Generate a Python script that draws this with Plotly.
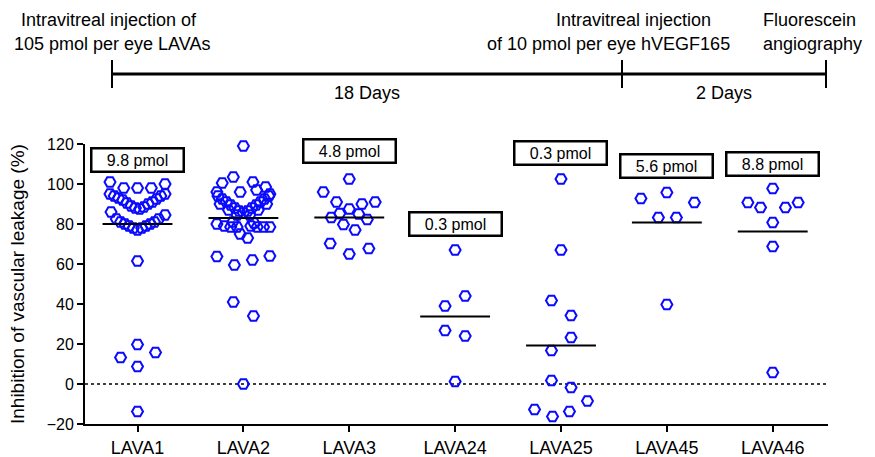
import plotly.graph_objects as go

categories = ["LAVA1", "LAVA2", "LAVA3", "LAVA24", "LAVA25", "LAVA45", "LAVA46"]
dose_labels = ["9.8 pmol", "5.2 pmol", "4.8 pmol", "0.3 pmol", "0.3 pmol", "5.6 pmol", "8.8 pmol"]
dose_label_y = [112, 133, 116.5, 80, 115.5, 109, 110]
medians = [80, 83, 83.3, 33.7, 19.2, 80.8, 76.2]

lava1_values = [101, 100, 98, 98, 98, 95, 94, 93, 92, 90.5, 89, 88, 87.5, 88.5, 90, 91, 92.5, 94, 95,
                86, 84.5, 82.5, 81, 80, 79, 78, 77, 78, 79, 80, 81, 82.5, 61.5, 19.8, 13.2, 15.7, 8.7, -13.8]
lava1_jitter = [-0.26, 0.26, -0.13, 0, 0.13, -0.26, -0.22, -0.18, -0.14, -0.10, -0.06, -0.02, 0.02, 0.06, 0.10,
                0.14, 0.18, 0.22, 0.26, -0.25, 0.26, -0.20, -0.16, -0.12, -0.08, -0.04, 0, 0.04, 0.08, 0.12,
                0.16, 0.20, 0, 0, -0.16, 0.17, 0, 0]

lava2_values = [119, 103.5, 100.5, 101, 98.5, 96, 96, 97, 95,
                94, 92.5, 91, 89.5, 88, 86.5, 85.5, 86.5, 88, 89.5, 91, 92.5, 94,
                90, 87, 84.5, 84.5, 87, 90,
                80, 79, 78.5, 78.5, 79, 78.5, 78.5, 78.5, 75, 73, 81, 80.5,
                63.7, 59.5, 62, 64, 41, 34, 0]
lava2_jitter = [0, -0.095, -0.2, 0.09, 0.21, -0.25, -0.03, 0.125, 0.25,
                -0.24, -0.20, -0.16, -0.12, -0.08, -0.04, 0, 0.04, 0.08, 0.12, 0.16, 0.20, 0.24,
                -0.22, -0.14, -0.06, 0.06, 0.14, 0.22,
                -0.25, -0.18, -0.12, -0.06, 0.07, 0.13, 0.19, 0.25, -0.03, 0.04, -0.1, 0.1,
                -0.25, -0.085, 0.085, 0.25, -0.095, 0.095, 0]

lava3_values = [102.5, 96, 91, 87.5, 90, 91, 85.3, 85, 83.3, 82.3, 79.8, 77, 70.3, 65, 67.8]
lava3_jitter = [0, -0.245, -0.12, 0, 0.12, 0.245, -0.09, 0.09, -0.17, 0.17, -0.055, 0.055, -0.18, 0, 0.185]

lava24_values = [67, 44, 39, 26.7, 24, 1.2]
lava24_jitter = [0, 0.095, -0.095, -0.095, 0.095, 0]

lava25_values = [102.5, 67, 41.7, 34.2, 23.3, 16.7, 1.7, -1.8, -8.5, -12.7, -16.3, -13.8]
lava25_jitter = [0, 0, -0.09, 0.095, 0.095, -0.09, -0.09, 0.095, 0.25, -0.25, -0.08, 0.08]

lava45_values = [92.8, 95.7, 90.7, 83.2, 83.2, 39.8]
lava45_jitter = [-0.245, 0, 0.26, -0.08, 0.09, 0]

lava46_values = [97.8, 90.7, 88.2, 88.2, 90.7, 80.8, 68.7, 5.7]
lava46_jitter = [0, -0.235, -0.115, 0.12, 0.24, 0, 0, 0]

group_values = [lava1_values, lava2_values, lava3_values, lava24_values, lava25_values, lava45_values, lava46_values]
group_jitter = [lava1_jitter, lava2_jitter, lava3_jitter, lava24_jitter, lava25_jitter, lava45_jitter, lava46_jitter]

FONT = "Liberation Sans, Arial, sans-serif"
BLUE = "#0a0aff"

fig = go.Figure()

for i, (vals, jit) in enumerate(zip(group_values, group_jitter)):
    fig.add_trace(go.Scatter(
        x=[i + j for j in jit], y=vals, mode="markers",
        marker=dict(symbol="hexagon2-open", size=11, color=BLUE, line=dict(width=2, color=BLUE)),
        showlegend=False, cliponaxis=False, hoverinfo="y"))

# median lines
half = 0.33
for i, m in enumerate(medians):
    fig.add_trace(go.Scatter(x=[i - half, i + half], y=[m, m], mode="lines",
                             line=dict(color="black", width=2), showlegend=False, hoverinfo="skip"))

# zero dotted line
fig.add_shape(type="line", xref="x domain", yref="y", x0=0, x1=1, y0=0, y1=0,
              line=dict(color="black", width=1.5, dash="dot"), layer="below")

# dose label boxes
for i, (lab, ly) in enumerate(zip(dose_labels, dose_label_y)):
    fig.add_annotation(x=i, y=ly, xref="x", yref="y", text=lab, showarrow=False,
                       font=dict(family=FONT, size=16, color="black"),
                       bordercolor="black", borderwidth=2.5, borderpad=1,
                       width=88, height=19, bgcolor="white",
                       xanchor="center", yanchor="middle")

# timeline
t_start, t_mid, t_end = -0.241, 4.576, 6.503
fig.add_shape(type="line", xref="x", yref="paper", x0=t_start, x1=t_end, y0=1.25, y1=1.25,
              line=dict(color="black", width=3))
for tx in (t_start, t_mid, t_end):
    fig.add_shape(type="line", xref="x", yref="paper", x0=tx, x1=tx, y0=1.2, y1=1.3,
                  line=dict(color="black", width=2))

top_font = dict(family=FONT, size=18, color="black")
top_texts = [
    ("18 Days", (t_start + t_mid) / 2, 1.182),
    ("2 Days", (t_mid + t_end) / 2, 1.182),
    ("Intravitreal injection of", t_start - 0.03, 1.443),
    ("105 pmol per eye LAVAs", t_start, 1.357),
    ("Intravitreal injection", t_mid + 0.11, 1.443),
    ("of 10 pmol per eye hVEGF165", t_mid - 0.123, 1.357),
    ("Fluorescein", t_end - 0.16, 1.443),
    ("angiography", t_end - 0.13, 1.357),
]
for txt, tx, ty in top_texts:
    fig.add_annotation(x=tx, y=ty, xref="x", yref="paper", text=txt, showarrow=False,
                       font=top_font, xanchor="center", yanchor="middle")

# y-axis title
fig.add_annotation(x=-0.0915, y=0.5, xref="paper", yref="paper",
                   text="Inhibition of vascular leakage (%)", textangle=-90,
                   showarrow=False, font=dict(family=FONT, size=19, color="black"),
                   xanchor="center", yanchor="middle")

fig.update_layout(
    width=867, height=449,
    margin=dict(l=77, r=47, t=136, b=33, autoexpand=False),
    paper_bgcolor="white", plot_bgcolor="white",
    font=dict(family=FONT, size=16, color="black"),
    xaxis=dict(range=[-0.496, 6.522], tickmode="array", tickvals=list(range(len(categories))),
               ticktext=categories, showline=True, linecolor="black", linewidth=2,
               ticks="outside", ticklen=6, tickwidth=2, tickcolor="black",
               showgrid=False, zeroline=False, tickfont=dict(size=18)),
    yaxis=dict(range=[-20, 120], dtick=20, showline=True, linecolor="black", linewidth=2,
               ticks="outside", ticklen=6, tickwidth=2, tickcolor="black",
               showgrid=False, zeroline=False, tickfont=dict(size=16)),
)

fig.write_html("out.html")
